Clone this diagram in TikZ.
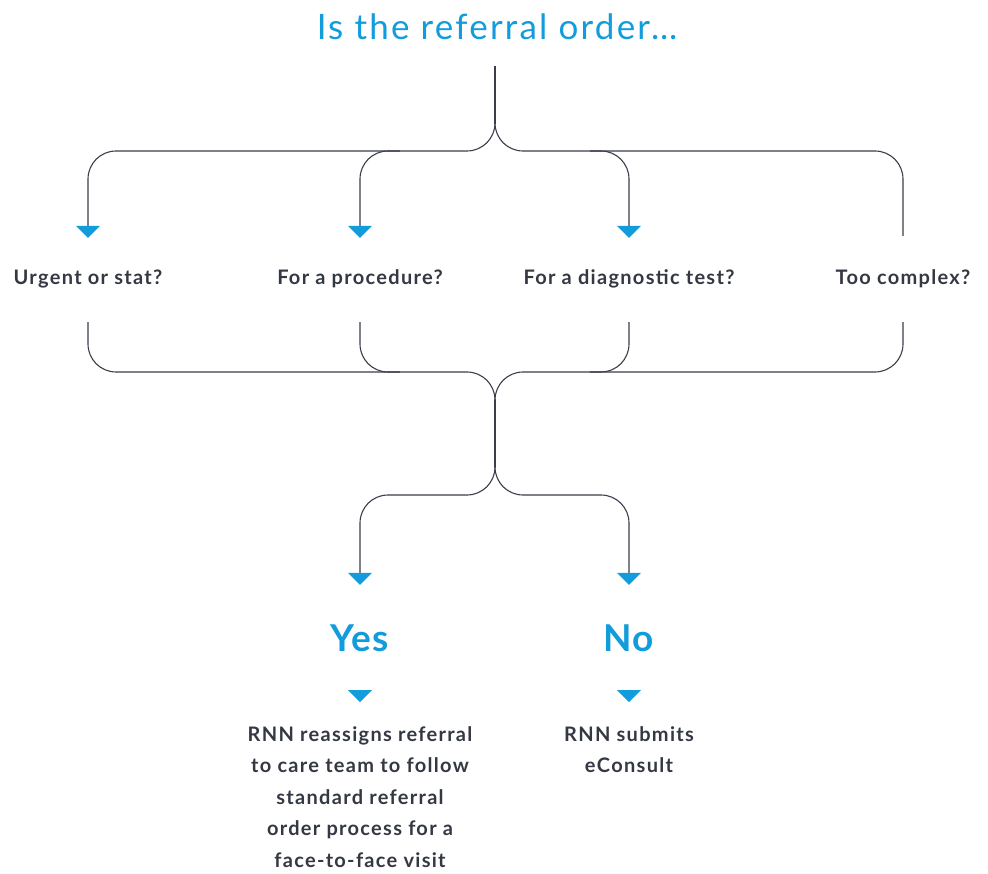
\documentclass[tikz,border=0pt]{standalone}
\usepackage{fontspec}
\setmainfont{Lato}
\newfontfamily\lblfont{Lato}[LetterSpace=6.5]
\newfontfamily\ttlfont{Lato}[LetterSpace=6.3]
\newfontfamily\ansfont{Lato}[LetterSpace=3]
\usetikzlibrary{arrows.meta,calc}
\definecolor{accent}{RGB}{18,156,219}
\definecolor{linec}{RGB}{58,62,74}
\definecolor{textc}{RGB}{52,56,66}
\tikzset{
  conn/.style={draw=linec, line width=1.1pt, rounded corners=28pt},
  tip/.style={-{Triangle[width=24pt,length=12pt,color=accent,fill=accent]}},
  qlabel/.style={font=\lblfont\bfseries\fontsize{20}{24}\selectfont, text=textc, minimum height=84pt,
    text height=15pt, text depth=5pt, inner sep=0pt},
  answer/.style={font=\ansfont\bfseries\fontsize{37}{40}\selectfont, text=accent, minimum height=106pt,
    text height=27pt, text depth=0pt, inner sep=0pt},
  desc/.style={font=\lblfont\bfseries\fontsize{20}{31.5}\selectfont, text=textc, align=center,
    inner sep=0pt, anchor=north},
}
\begin{document}
\begin{tikzpicture}[x=1pt,y=-1pt]
\useasboundingbox (0,0) rectangle (988,874);
% title
\node[font=\ttlfont\fontsize{35}{40}\selectfont, text=accent, anchor=base] (title) at (497,40) {Is the referral order…};
% labels
\node[qlabel] (u) at (88,280) {Urgent or stat?};
\node[qlabel] (p) at (360,280) {For a procedure?};
\node[qlabel] (d) at (629,280) {For a diagnostic test?};
\node[qlabel] (t) at (903,280) {Too complex?};
\node[answer] (yes) at (360,638) {Yes};
\node[answer] (no) at (629,638) {No};
\node[desc] (yd) at (360,726) {RNN reassigns referral\\to care team to follow\\standard referral\\order process for a\\face-to-face visit};
\node[desc] (nd) at (629,726) {RNN submits\\eConsult};
% junction coordinates
\coordinate (s0) at (495,66);
\coordinate (j1) at (495,124);
\coordinate (j2) at (495,400);
\coordinate (j3) at (495,467);
% top stem and bracket
\draw[conn] (s0) -- (j1);
\draw[conn,tip] (j1) -- (495,151) -- (88,151) -- (u.north);
\draw[conn,shorten >=2pt] (j1) -- (495,151) -- (903,151) -- (t.north);
\draw[conn,tip] (400,151) -- (360,151) -- (p.north);
\draw[conn,tip] (590,151) -- (629,151) -- (d.north);
% bottom bracket
\draw[conn] (u.south) -- (88,372) -- (495,372) -- (j2);
\draw[conn] (t.south) -- (903,372) -- (495,372) -- (j2);
\draw[conn] (p.south) -- (360,372) -- (400,372);
\draw[conn] (d.south) -- (629,372) -- (590,372);
\draw[conn] (j2) -- (j3);
% yes / no
\draw[conn,tip] (j3) -- (495,495) -- (360,495) -- (yes.north);
\draw[conn,tip] (j3) -- (495,495) -- (629,495) -- (no.north);
% small arrows
\fill[accent] ($(yes.south)+(-12,-1)$) -- ++(24,0) -- ++(-12,12) -- cycle;
\fill[accent] ($(no.south)+(-12,-1)$) -- ++(24,0) -- ++(-12,12) -- cycle;
\end{tikzpicture}
\end{document}
